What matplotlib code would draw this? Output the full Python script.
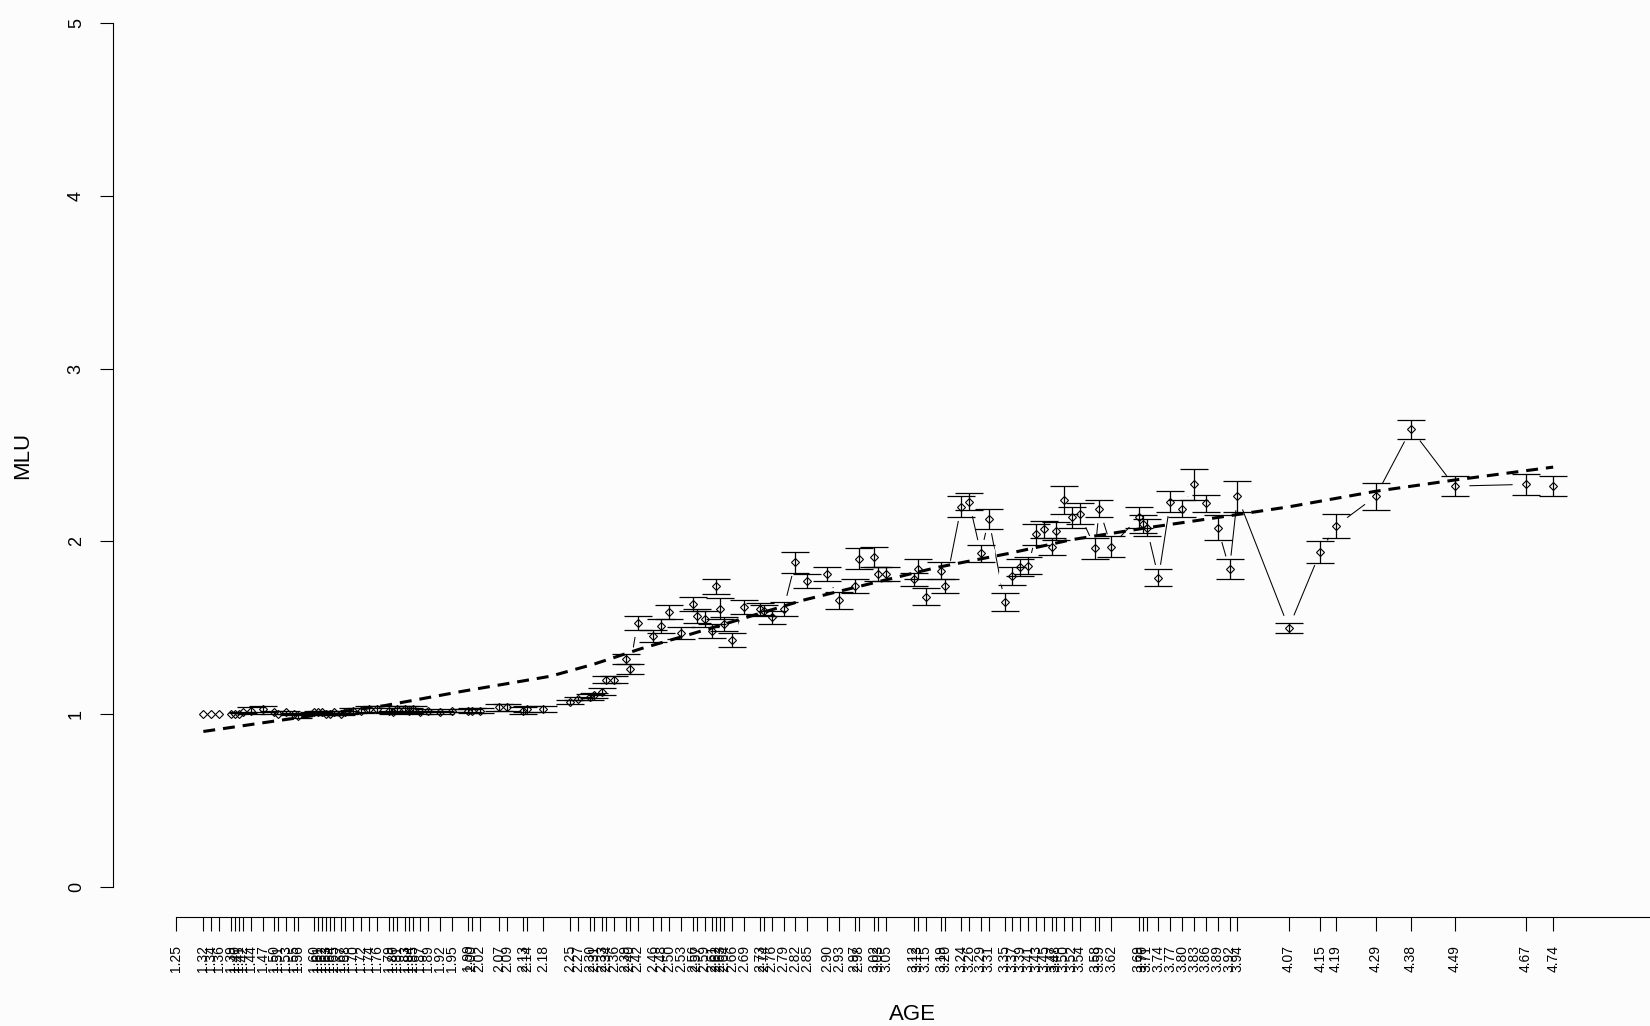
import matplotlib.pyplot as plt

# MLU by age: mean value and error (se) at each age
ages = [1.32, 1.34, 1.36, 1.39, 1.40, 1.41, 1.42, 1.44, 1.47, 1.50,
        1.51, 1.53, 1.55, 1.56, 1.60, 1.61, 1.62, 1.63, 1.64, 1.65,
        1.67, 1.68, 1.70, 1.72, 1.74, 1.76, 1.79, 1.80, 1.81, 1.83,
        1.84, 1.85, 1.87, 1.89, 1.92, 1.95, 1.99, 2.00, 2.02, 2.07,
        2.09, 2.13, 2.14, 2.18,
        2.25, 2.27, 2.30, 2.31, 2.33, 2.34, 2.36, 2.39, 2.40, 2.42,
        2.46, 2.48, 2.50, 2.53, 2.56, 2.57, 2.59, 2.61, 2.62, 2.63,
        2.64, 2.66, 2.69, 2.73, 2.74, 2.76, 2.79, 2.82, 2.85, 2.90,
        2.93, 2.97, 2.98, 3.02, 3.03, 3.05, 3.12, 3.13, 3.15,
        3.19, 3.20, 3.24, 3.26, 3.29, 3.31, 3.35, 3.37, 3.39, 3.41,
        3.43, 3.45, 3.47, 3.48, 3.50, 3.52, 3.54, 3.58, 3.59, 3.62,
        3.69, 3.70, 3.71, 3.74, 3.77, 3.80, 3.83, 3.86, 3.89, 3.92,
        3.94, 4.07, 4.15, 4.19, 4.29, 4.38, 4.49, 4.67, 4.74]

mlu = [1.00, 1.00, 1.00, 1.00, 1.00, 1.00, 1.01, 1.02, 1.03, 1.01,
       1.00, 1.01, 1.00, 0.99, 1.01, 1.01, 1.01, 1.00, 1.00, 1.01,
       1.00, 1.01, 1.02, 1.02, 1.03, 1.03, 1.02, 1.01, 1.03, 1.03,
       1.02, 1.03, 1.01, 1.02, 1.01, 1.02, 1.02, 1.02, 1.02, 1.04,
       1.04, 1.02, 1.03, 1.03,
       1.07, 1.09, 1.10, 1.11, 1.13, 1.20, 1.20, 1.32, 1.26, 1.53,
       1.45, 1.51, 1.59, 1.47, 1.64, 1.57, 1.55, 1.48, 1.74, 1.61,
       1.52, 1.43, 1.62, 1.61, 1.60, 1.56, 1.61, 1.88, 1.77, 1.81,
       1.66, 1.74, 1.90, 1.91, 1.81, 1.81, 1.78, 1.84, 1.68,
       1.83, 1.74, 2.20, 2.23, 1.93, 2.13, 1.65, 1.80, 1.85, 1.86,
       2.04, 2.07, 1.97, 2.06, 2.24, 2.14, 2.16, 1.96, 2.19, 1.97,
       2.14, 2.10, 2.08, 1.79, 2.23, 2.19, 2.33, 2.22, 2.08, 1.84,
       2.26, 1.50, 1.94, 2.09, 2.26, 2.65, 2.32, 2.33, 2.32]

mlu_se = [0, 0, 0, 0, 0, 0, 0.005, 0.02, 0.02, 0.01,
          0, 0.01, 0.005, 0.01, 0.005, 0.01, 0.01, 0.005, 0.005, 0.01,
          0.005, 0.01, 0.015, 0.015, 0.02, 0.02, 0.015, 0.01, 0.02, 0.02,
          0.015, 0.02, 0.01, 0.01, 0.01, 0.01, 0.01, 0.015, 0.015, 0.02,
          0.02, 0.02, 0.02, 0.02,
          0.01, 0.01, 0.015, 0.015, 0.02, 0.02, 0.02, 0.03, 0.03, 0.04,
          0.035, 0.04, 0.04, 0.035, 0.04, 0.04, 0.045, 0.04, 0.045, 0.06,
          0.04, 0.04, 0.04, 0.035, 0.03, 0.04, 0.04, 0.06, 0.04, 0.04,
          0.05, 0.04, 0.06, 0.06, 0.04, 0.04, 0.04, 0.06, 0.05,
          0.05, 0.04, 0.06, 0.05, 0.05, 0.06, 0.05, 0.05, 0.05, 0.05,
          0.06, 0.05, 0.05, 0.05, 0.08, 0.06, 0.06, 0.06, 0.05, 0.06,
          0.06, 0.05, 0.05, 0.05, 0.06, 0.05, 0.09, 0.05, 0.07, 0.06,
          0.09, 0.03, 0.065, 0.07, 0.08, 0.055, 0.06, 0.06, 0.06]

# first tick of the age axis (no point drawn there)
axis_start = 1.25

# fitted trend (dashed line), read at a few ages
fit_ages = [1.32, 1.50, 1.78, 1.97, 2.20, 2.31, 2.43, 2.55, 2.66, 2.84,
            3.00, 3.18, 3.36, 3.52, 3.70, 3.88, 4.07, 4.29, 4.49, 4.74]
fit_mlu = [0.90, 0.96, 1.05, 1.13, 1.22, 1.29, 1.38, 1.46, 1.535, 1.66,
           1.75, 1.85, 1.93, 2.01, 2.075, 2.135, 2.20, 2.29, 2.355, 2.43]


def generate_plot():
    bg = '#fcfcfc'
    plt.rcParams['font.family'] = ['Liberation Sans', 'DejaVu Sans']
    fig = plt.figure(figsize=(16.5, 10.26), dpi=100, facecolor=bg)
    ax = fig.add_axes([113 / 1650, 109 / 1026, 1537 / 1650, 917 / 1026], facecolor=bg)

    xmin, xmax = 1.0911, 4.9853
    ax.set_xlim(xmin, xmax)
    ax.set_ylim(-0.1736, 5.1331)

    # connecting line with gaps round each point (R type="b")
    ax.plot(ages, mlu, color='black', lw=0.75, zorder=1)
    ax.plot(ages, mlu, 'o', ms=20, color=bg, mec='none', zorder=2)

    # error bars where there is an error
    ex = [a for a, s in zip(ages, mlu_se) if s > 0]
    ey = [m for m, s in zip(mlu, mlu_se) if s > 0]
    es = [s for s in mlu_se if s > 0]
    ax.errorbar(ex, ey, yerr=es, fmt='none', ecolor='black', elinewidth=0.9,
                capsize=10, capthick=0.9, zorder=3)

    ax.plot(fit_ages, fit_mlu, color='black', lw=2.2, dashes=(3.9, 2.6), zorder=4)
    ax.plot(ages, mlu, 'D', ms=4.5, mfc='none', mec='black', mew=0.8, zorder=5)

    ax.spines[['top', 'right']].set_visible(False)
    ax.spines['left'].set_bounds(0, 5)
    ax.spines['bottom'].set_bounds(axis_start, xmax)
    for s in ('left', 'bottom'):
        ax.spines[s].set_linewidth(0.8)

    ax.set_xticks([axis_start] + ages)
    ax.set_xticklabels([f'{a:.2f}' for a in [axis_start] + ages])
    ax.tick_params(axis='x', direction='out', length=10, width=0.8, pad=10,
                   labelsize=10, labelrotation=90)

    ax.set_yticks(range(6))
    ax.set_yticklabels([str(v) for v in range(6)])
    ax.tick_params(axis='y', direction='out', length=9.4, width=0.8, pad=17,
                   labelsize=13, labelrotation=90)
    plt.setp(ax.get_yticklabels(), ha='center', va='center')

    fig.text(23 / 1650, 1 - 455 / 1026, 'MLU', rotation=90, ha='center',
             va='center', fontsize=16)
    fig.text(912 / 1650, 1 - 1015 / 1026, 'AGE', ha='center', va='center',
             fontsize=16)

    fig.savefig('out.png', dpi=100, facecolor=bg)


if __name__ == '__main__':
    generate_plot()
